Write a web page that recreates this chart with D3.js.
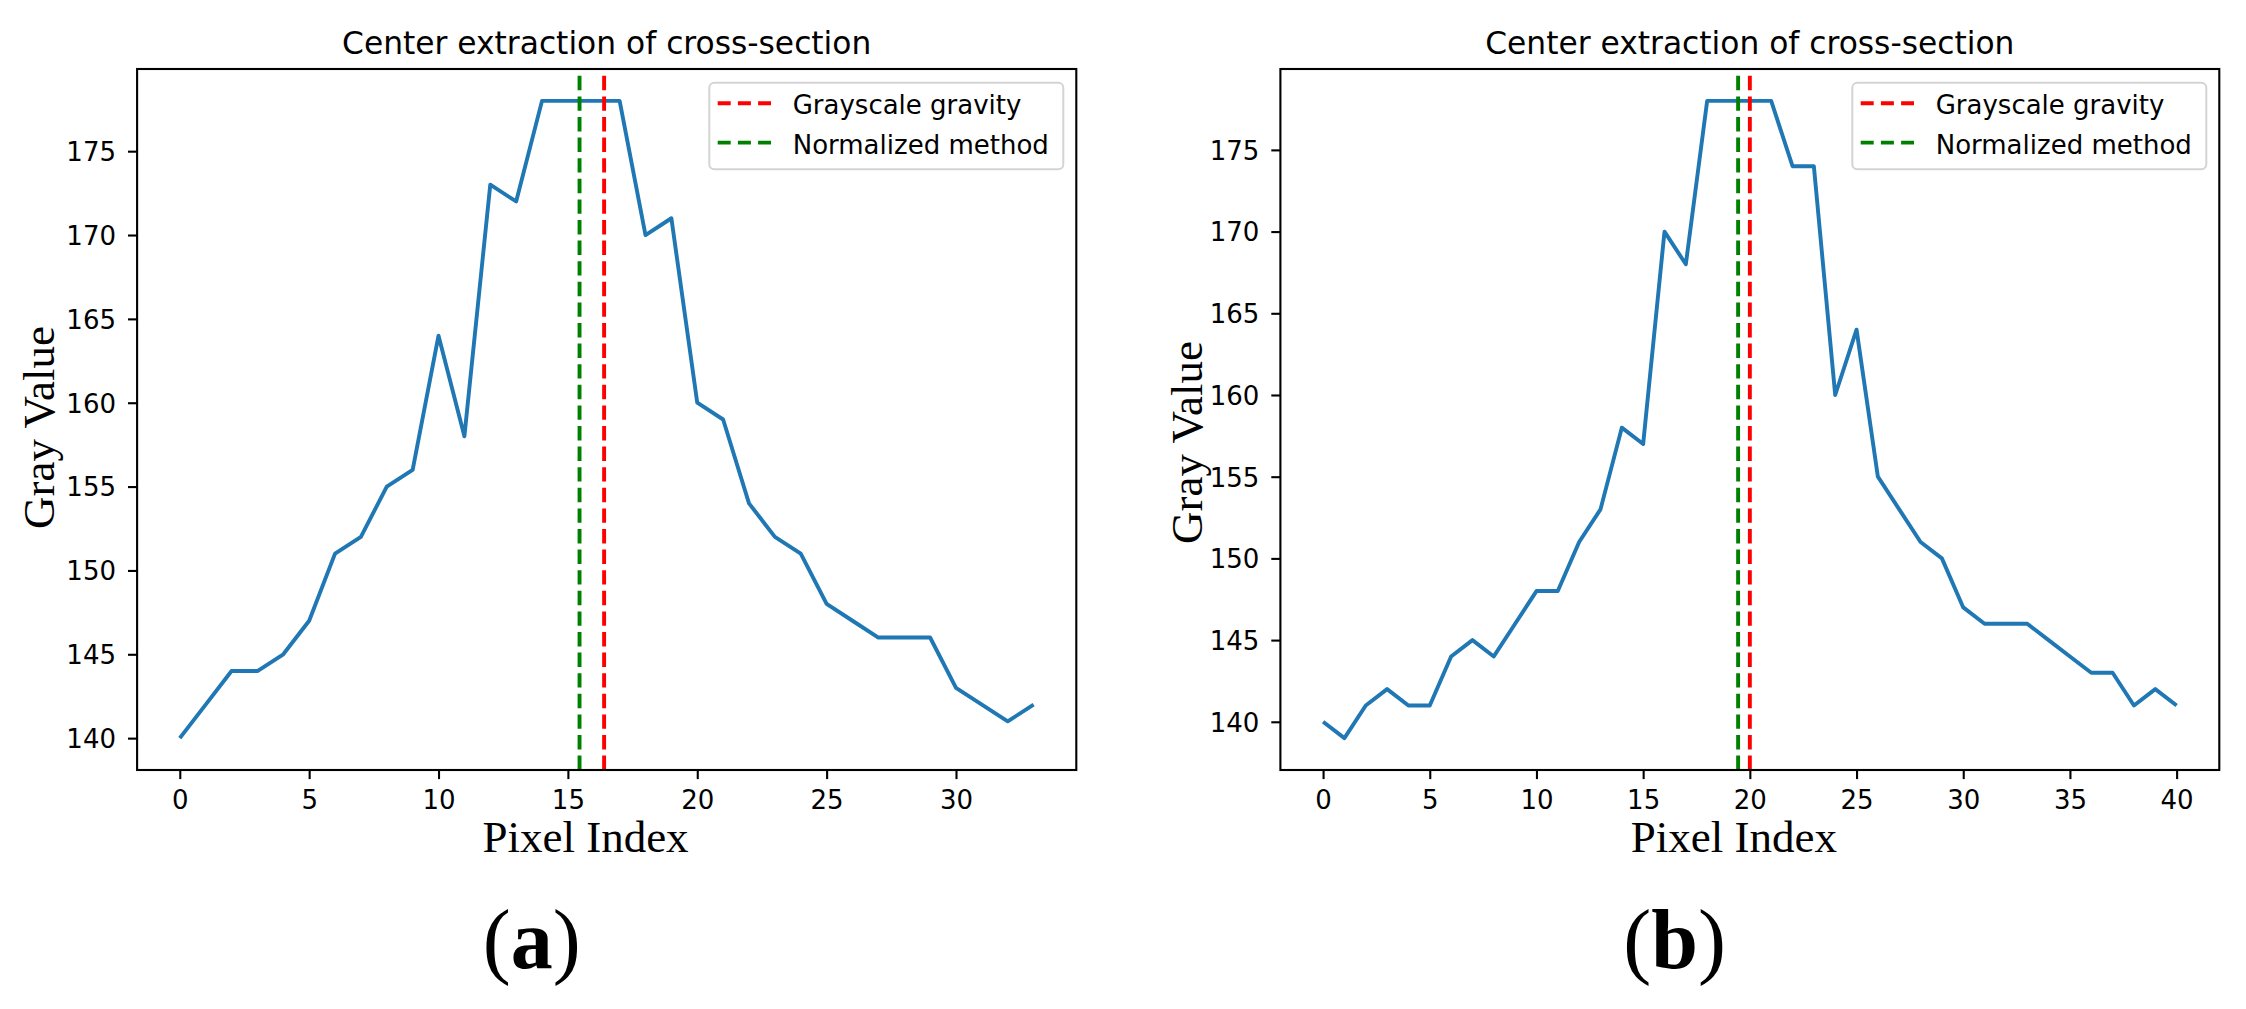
<!DOCTYPE html>
<html><head><meta charset="utf-8">
<script src="https://cdn.jsdelivr.net/npm/d3@7"></script>
<style>html,body{margin:0;padding:0;background:#fff;} svg{display:block;background:#fff}</style>
</head><body><svg id="c" width="2246" height="1009"></svg>
<script>
// ---------- data ----------
const grayA = [140,142,144,144,145,147,151,152,155,156,164,158,173,172,178,178,178,178,170,171,160,159,154,152,151,148,147,146,146,146,143,142,141,142];
const grayB = [140,139,141,142,141,141,144,145,144,146,148,148,151,153,158,157,170,168,178,178,178,178,174,174,160,164,155,153,151,150,147,146,146,146,145,144,143,143,141,142,141];
const gravityCenters = [16.4, 20.0];
const normalizedCenters = [15.45, 19.45];
const xTicksA = [0,5,10,15,20,25,30];
const xTicksB = [0,5,10,15,20,25,30,35,40];
const yTicks = [140,145,150,155,160,165,170,175];
const legendLabels = ["Grayscale gravity","Normalized method"];
const legendColors = ["#ff0000","#008000"];
const titleText = "Center extraction of cross-section";
const xLabel = "Pixel Index";
const yLabel = "Gray Value";
const captions = ["a","b"];

// ---------- layout ----------
const panels = [
  {series: grayA, xTicks: xTicksA, gravity: gravityCenters[0], normalized: normalizedCenters[0], caption: captions[0],
   left: 137.1, right: 1076.3, ylabX: 53.5, ylabY: 427.5, xlabX: 585.5, capX: 531.7},
  {series: grayB, xTicks: xTicksB, gravity: gravityCenters[1], normalized: normalizedCenters[1], caption: captions[1],
   left: 1280.4, right: 2219.3, ylabX: 1201.5, ylabY: 442.5, xlabX: 1733.8, capX: 1674.7}
];
const axTop = 69, axBottom = 770;
const sans = "'DejaVu Sans', sans-serif";
const serif = "'Liberation Serif', 'Times New Roman', serif";
const LW = 3.9;

const svg = d3.select("#c");
svg.append("rect").attr("width",2246).attr("height",1009).attr("fill","#fff");

function padExtent(lo, hi){ const m = (hi-lo)*0.05; return [lo-m, hi+m]; }

panels.forEach(p => {
  const n = p.series.length;
  const x = d3.scaleLinear().domain(padExtent(0, n-1)).range([p.left, p.right]);
  const y = d3.scaleLinear().domain(padExtent(d3.min(p.series), d3.max(p.series))).range([axBottom, axTop]);
  const g = svg.append("g");

  // series line
  g.append("path")
    .datum(p.series)
    .attr("d", d3.line().x((d,i)=>x(i)).y(d=>y(d)))
    .attr("fill","none").attr("stroke","#1f77b4").attr("stroke-width",LW)
    .attr("stroke-linejoin","round").attr("stroke-linecap","butt");

  // vertical center lines
  [[p.gravity, legendColors[0]], [p.normalized, legendColors[1]]].forEach(([v,c]) => {
    g.append("line").attr("x1",x(v)).attr("x2",x(v)).attr("y1",axBottom).attr("y2",axTop)
      .attr("stroke",c).attr("stroke-width",LW).attr("stroke-dasharray","14.4,6.2");
  });

  // axes
  const ax = g.append("g").attr("transform",`translate(0,${axBottom})`)
    .call(d3.axisBottom(x).tickValues(p.xTicks).tickSize(9.1).tickPadding(11.7).tickFormat(d3.format("d")));
  const ay = g.append("g").attr("transform",`translate(${p.left},0)`)
    .call(d3.axisLeft(y).tickValues(yTicks).tickSize(9.1).tickPadding(12).tickFormat(d3.format("d")));
  ay.selectAll("text").attr("dy","0.36em");
  [ax, ay].forEach(a => {
    a.select(".domain").remove();
    a.selectAll(".tick line").attr("stroke","#000").attr("stroke-width",2.1);
    a.selectAll("text").attr("font-family",sans).attr("font-size",26).attr("fill","#000");
  });

  // frame
  g.append("rect").attr("x",p.left).attr("y",axTop).attr("width",p.right-p.left).attr("height",axBottom-axTop)
    .attr("fill","none").attr("stroke","#000").attr("stroke-width",2.1);

  // title
  g.append("text").attr("x",(p.left+p.right)/2).attr("y",53.5).attr("text-anchor","middle")
    .attr("font-family",sans).attr("font-size",31.3).attr("fill","#000").text(titleText);

  // legend
  const bw = 354, bh = 86.6, bx = p.right - 13 - bw, by = 82.7;
  const lg = g.append("g").attr("transform",`translate(${bx},${by})`);
  lg.append("rect").attr("width",bw).attr("height",bh).attr("rx",5).attr("ry",5)
    .attr("fill","#fff").attr("fill-opacity",0.8).attr("stroke","#d4d4d4").attr("stroke-width",2);
  legendLabels.forEach((lab,i) => {
    const cy = 20.6 + i*39.3;
    lg.append("line").attr("x1",8.4).attr("x2",61.7).attr("y1",cy).attr("y2",cy)
      .attr("stroke",legendColors[i]).attr("stroke-width",LW).attr("stroke-dasharray","13,7.2");
    lg.append("text").attr("x",83.4).attr("y",cy+11).attr("font-family",sans).attr("font-size",26)
      .attr("fill","#000").text(lab);
  });

  // axis labels
  g.append("text").attr("transform",`translate(${p.ylabX},${p.ylabY}) rotate(-90)`)
    .attr("text-anchor","middle").attr("font-family",serif).attr("font-size",45).attr("fill","#000").text(yLabel);
  g.append("text").attr("x",p.xlabX).attr("y",851.7).attr("text-anchor","middle")
    .attr("font-family",serif).attr("font-size",45).attr("fill","#000").text(xLabel);

  // caption (a)/(b)
  const cap = g.append("text").attr("x",p.capX).attr("y",968.3).attr("text-anchor","middle")
    .attr("font-family",serif).attr("font-size",84).attr("fill","#000");
  cap.append("tspan").text("(");
  cap.append("tspan").attr("font-weight","bold").text(p.caption);
  cap.append("tspan").text(")");
});
</script></body></html>
